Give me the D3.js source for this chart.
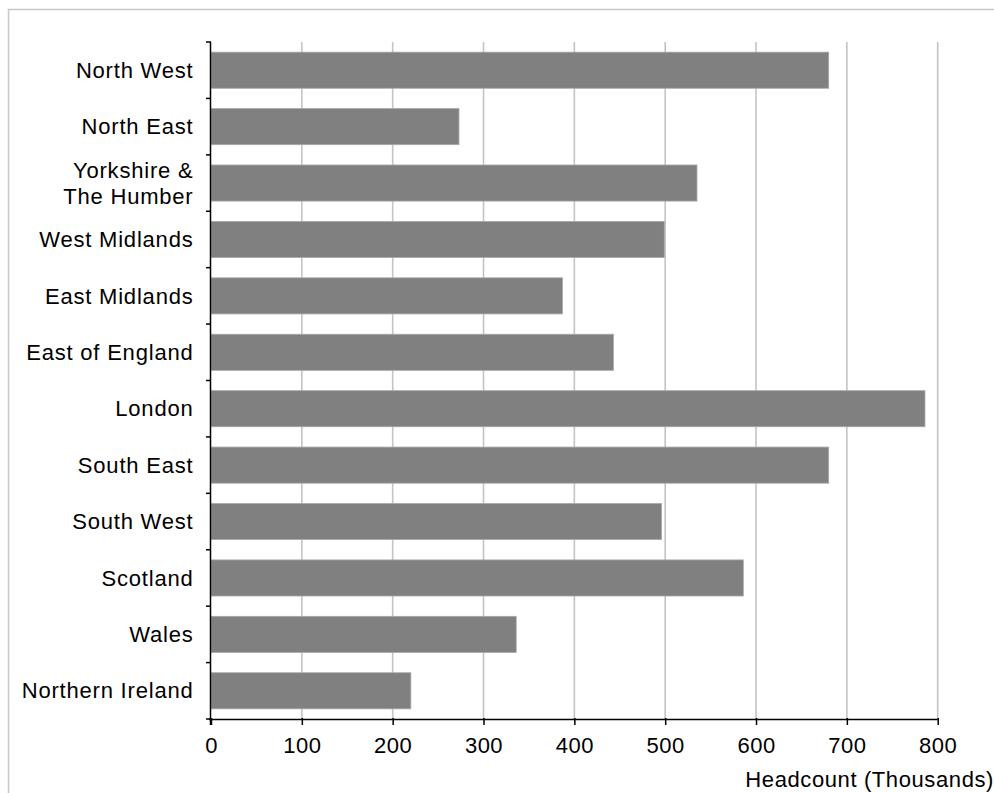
<!DOCTYPE html>
<html>
<head>
<meta charset="utf-8">
<script src="https://cdn.jsdelivr.net/npm/d3@7"></script>
<style>
  html, body { margin: 0; padding: 0; background: #fff; }
  svg { display: block; }
  text { font-family: "Liberation Sans", Arial, sans-serif; fill: #000; }
</style>
</head>
<body>
<svg id="chart" width="994" height="793"></svg>
<script>
const categories = [
  "North West", "North East", "Yorkshire &\nThe Humber", "West Midlands",
  "East Midlands", "East of England", "London", "South East",
  "South West", "Scotland", "Wales", "Northern Ireland"
];
const values = [680, 273, 535, 499, 387, 443, 786, 680, 496, 586, 336, 220];
const xTicks = [0, 100, 200, 300, 400, 500, 600, 700, 800];
const xTitle = "Headcount (Thousands)";

const svg = d3.select("#chart");
const W = 994, H = 793;
const m = { left: 211, right: 56.3, top: 42, bottom: 74 };

// outer frame
svg.append("rect")
  .attr("x", 8.5).attr("y", 9.5)
  .attr("width", 1200).attr("height", 1200)
  .attr("fill", "none").attr("stroke", "#c8c8c8").attr("stroke-width", 1.5);

const x = d3.scaleLinear().domain([0, 800]).range([m.left, W - m.right]);
const y = d3.scaleBand().domain(categories)
  .range([m.top, H - m.bottom])
  .paddingInner(0.36).paddingOuter(0.18);

const y0 = y.range()[0], y1 = y.range()[1];

// gridlines
svg.append("g").selectAll("line")
  .data(xTicks.filter(d => d > 0))
  .join("line")
  .attr("x1", d => x(d)).attr("x2", d => x(d))
  .attr("y1", y0).attr("y2", y1)
  .attr("stroke", "#c4c4c4").attr("stroke-width", 1.6);

// bars
svg.append("g").selectAll("rect")
  .data(categories)
  .join("rect")
  .attr("x", x(0))
  .attr("y", d => y(d))
  .attr("width", (d, i) => x(values[i]) - x(0))
  .attr("height", y.bandwidth())
  .attr("fill", "#808080")
  .attr("stroke", "#a8a8a8").attr("stroke-width", 0.8);

// x axis
const xAxis = d3.axisBottom(x).tickValues(xTicks).tickSize(6).tickPadding(12)
  .tickFormat(d3.format("d"));
const gx = svg.append("g").attr("transform", `translate(0,${y1})`).call(xAxis);
gx.select(".domain").attr("stroke", "#000").attr("stroke-width", 1.5)
  .attr("d", `M${x(0) - 2},0.5H${x(800)}`);
gx.selectAll(".tick line").attr("stroke", "#000").attr("stroke-width", 1.5).attr("y1", -1);
gx.selectAll(".tick text").attr("font-size", 22).style("letter-spacing", "0.5px")
  .attr("font-family", "Liberation Sans, Arial, sans-serif").attr("fill", "#000");

// y axis line
const step = y.step();
svg.append("line")
  .attr("x1", x(0) - 0.5).attr("x2", x(0) - 0.5)
  .attr("y1", y0).attr("y2", y1 + 6)
  .attr("stroke", "#000").attr("stroke-width", 1.5);
svg.append("g").selectAll("line")
  .data(d3.range(categories.length + 1))
  .join("line")
  .attr("x1", x(0) - 5).attr("x2", x(0))
  .attr("y1", i => y0 + i * step).attr("y2", i => y0 + i * step)
  .attr("stroke", "#000").attr("stroke-width", 1.5);

// y labels
const lx = x(0) - 17.5;
const lbl = svg.append("g").selectAll("text")
  .data(categories)
  .join("text")
  .attr("x", lx)
  .attr("text-anchor", "end")
  .attr("font-size", 22)
  .style("letter-spacing", "0.8px")
  .attr("transform", d => `translate(0,${y(d) + y.bandwidth() / 2})`);
lbl.each(function (d) {
  const lines = d.split("\n");
  const t = d3.select(this);
  const lh = 26;
  lines.forEach((s, k) => {
    t.append("tspan")
      .attr("x", lx)
      .attr("y", (k - (lines.length - 1) / 2) * lh)
      .attr("dy", "0.35em")
      .text(s);
  });
});

// x title
svg.append("text")
  .attr("x", 994).attr("y", 787)
  .attr("text-anchor", "end")
  .attr("font-size", 22)
  .style("letter-spacing", "0.6px")
  .text(xTitle);
</script>
</body>
</html>
